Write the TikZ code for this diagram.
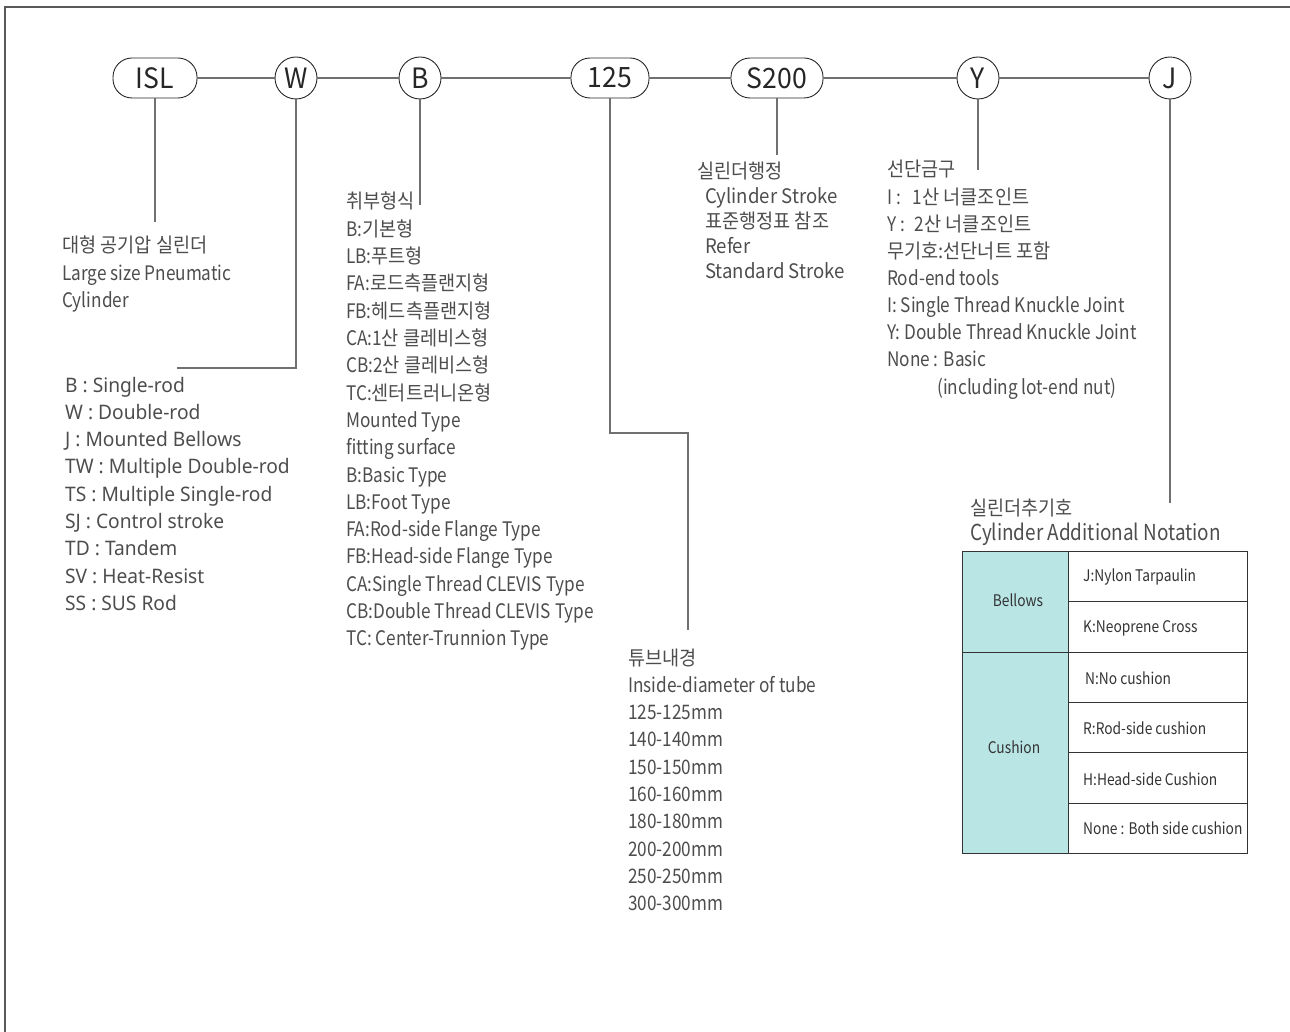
\documentclass[tikz,border=0pt]{standalone}
\usepackage{fontspec}
\setmainfont{Noto Sans CJK KR}
\newfontfamily\lat[FakeStretch=0.86]{Noto Sans CJK KR}
\newfontfamily\krf[FakeStretch=0.93]{Noto Sans CJK KR}
\newfontfamily\labf[FakeStretch=0.95]{Noto Sans CJK KR}
\newfontfamily\tabf[FakeStretch=0.86]{Noto Sans CJK KR}
\newfontfamily\wfont[FakeStretch=0.96]{Noto Sans}
\newcommand\kr[1]{{\krf #1}}
\definecolor{txt}{HTML}{4D4D4D}
\definecolor{lin}{HTML}{707070}
\definecolor{tabfill}{RGB}{185,229,229}
\tikzset{
  codebox/.style={draw=black!85, line width=0.9pt, rounded corners=19pt, minimum height=40pt, inner sep=0pt, font=\labf\fontsize{28}{30}\selectfont, text=black!85},
  codecirc/.style={draw=black!85, line width=0.9pt, circle, minimum size=42pt, inner sep=0pt, font=\labf\fontsize{28}{30}\selectfont, text=black!85},
  conn/.style={draw=lin, line width=1.3pt},
  lst/.style={inner sep=0pt, anchor=base west, text=txt, font=\lat\fontsize{20}{24}\selectfont},
  slst/.style={inner sep=0pt, anchor=base west, text=txt, font=\krf\fontsize{20}{24}\selectfont},
  wlst/.style={inner sep=0pt, anchor=base west, text=txt, font=\wfont\fontsize{20}{24}\selectfont},
  tabtxt/.style={inner sep=0pt, text=black!80, font=\tabf\fontsize{16}{19}\selectfont},
}
\begin{document}
\begin{tikzpicture}[x=1pt,y=-1pt]
\useasboundingbox (0,0) rectangle (1290,1032);
% frame
\draw[draw=black!65, line width=2pt] (5,1032) -- (5,7) -- (1290,7);
% code nodes
\node[codebox, minimum width=84pt] (isl) at (155,78) {ISL};
\node[codecirc] (w) at (296,78) {W};
\node[codecirc] (b) at (420,78) {B};
\node[codebox, minimum width=78pt] (n125) at (610,78) {125};
\node[codebox, minimum width=92pt] (s200) at (777,78) {S200};
\node[codecirc] (y) at (978,78) {Y};
\node[codecirc] (j) at (1170,78) {J};
\draw[conn] (isl) -- (w);
\draw[conn] (w) -- (b);
\draw[conn] (b) -- (n125);
\draw[conn] (n125) -- (s200);
\draw[conn] (s200) -- (y);
\draw[conn] (y) -- (j);
% leaders
\coordinate (islend) at (155,222);
\coordinate (wc) at (296,368);
\coordinate (wend) at (177,368);
\coordinate (bend) at (420,205);
\coordinate (nc1) at (610,433);
\coordinate (nc2) at (688,433);
\coordinate (nend) at (688,630);
\coordinate (send) at (777,155);
\coordinate (yend) at (978,170);
\coordinate (jend) at (1170,503);
\draw[conn] (isl.south) -- (islend);
\draw[conn] (w.south) -- (wc) -- (wend);
\draw[conn] (b.south) -- (bend);
\draw[conn] (n125.south) -- (nc1) -- (nc2) -- (nend);
\draw[conn] (s200.south) -- (send);
\draw[conn] (y.south) -- (yend);
\draw[conn] (j.south) -- (jend);
% ISL texts
\foreach \t [count=\i from 0] in {\kr{대형 공기압 실린더}, Large size Pneumatic, Cylinder}
  {\node[lst] (isl\i) at (62,{253+27.5*\i}) {\t};}
% W texts
\foreach \t [count=\i from 0] in {B : Single-rod, W : Double-rod, J : Mounted Bellows, TW : Multiple Double-rod, TS : Multiple Single-rod, SJ : Control stroke, TD : Tandem, SV : Heat-Resist, SS : SUS Rod}
  {\node[wlst] (wl\i) at (65,{392+27.3*\i}) {\t};}
% B texts
\foreach \t [count=\i from 0] in {\kr{취부형식}, B:\kr{기본형}, LB:\kr{푸트형}, FA:\kr{로드측플랜지형}, FB:\kr{헤드측플랜지형}, CA:1\kr{산 클레비스형}, CB:2\kr{산 클레비스형}, TC:\kr{센터트러니온형}, Mounted Type, fitting surface, B:Basic Type, LB:Foot Type, FA:Rod-side Flange Type, FB:Head-side Flange Type, CA:Single Thread CLEVIS Type, CB:Double Thread CLEVIS Type, TC: Center-Trunnion Type}
  {\node[lst] (bl\i) at (346,{209+27.3*\i}) {\t};}
% 125 texts
\foreach \t [count=\i from 0] in {\kr{튜브내경}, Inside-diameter of tube, 125-125mm, 140-140mm, 150-150mm, 160-160mm, 180-180mm, 200-200mm, 250-250mm, 300-300mm}
  {\node[lst] (nl\i) at (628,{665+27.3*\i}) {\t};}
% S200 texts
\node[slst] (sl0) at (697,179) {실린더행정};
\foreach \t [count=\i from 1] in {Cylinder Stroke, 표준행정표 참조, Refer, Standard Stroke}
  {\node[slst] (sl\i) at (705,{179+25*\i}) {\t};}
% Y texts
\foreach \t [count=\i from 0] in {\kr{선단금구}, I :\hspace{12pt}1\kr{산 너클조인트}, Y :\hspace{10pt}2\kr{산 너클조인트}, \kr{무기호:선단너트 포함}, Rod-end tools, I: Single Thread Knuckle Joint, Y: Double Thread Knuckle Joint, None : Basic}
  {\node[lst] (yl\i) at (887,{177+27.1*\i}) {\t};}
\node[lst] (yl8) at (937,394) {(including lot-end nut)};
% J texts
\node[lst] (jl0) at (970,515) {\kr{실린더추기호}};
\node[lst, font=\lat\fontsize{22}{26}\selectfont] (jl1) at (970,540) {Cylinder Additional Notation};
% table
\fill[tabfill] (962,551) rectangle (1068,853);
\draw[black!80, line width=1pt] (962,551) rectangle (1247,853);
\draw[black!80, line width=1pt] (1068,551) -- (1068,853);
\draw[black!80, line width=1pt] (962,652) -- (1247,652);
\foreach \yy in {601,702,752,803}
  {\draw[black!80, line width=0.8pt] (1068,\yy) -- (1247,\yy);}
\node[tabtxt] (tbel) at (1018,600) {Bellows};
\node[tabtxt] (tcus) at (1014,747) {Cushion};
\node[tabtxt, anchor=west] (t1) at (1083,577) {J:Nylon Tarpaulin};
\node[tabtxt, anchor=west] (t2) at (1083,628) {K:Neoprene Cross};
\node[tabtxt, anchor=west] (t3) at (1085,678) {N:No cushion};
\node[tabtxt, anchor=west] (t4) at (1083,728) {R:Rod-side cushion};
\node[tabtxt, anchor=west] (t5) at (1083,779) {H:Head-side Cushion};
\node[tabtxt, anchor=west] (t6) at (1083,828) {None : Both side cushion};
\end{tikzpicture}
\end{document}
